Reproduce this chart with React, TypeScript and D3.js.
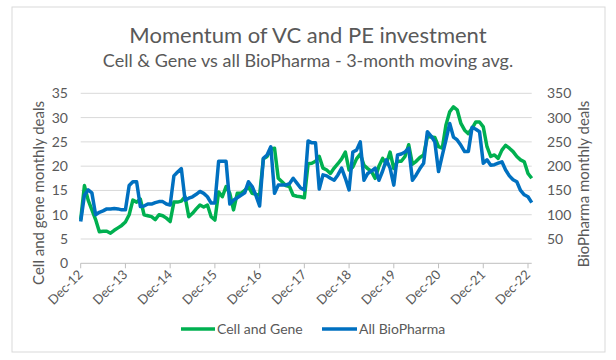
import React from "react";
import * as d3 from "d3";

// 3-month moving averages, monthly from Dec-12 to Jan-23
const cellGene: number[] = [
    9, 16, 13, 11, 9, 6.5, 6.6, 6.6, 6.2, 6.8, 7.3, 7.8,
    8.5, 10, 13, 12.6, 13.2, 10, 9.8, 9.6, 9, 10, 9.8, 9.3,
    8.6, 12.6, 12.6, 12.8, 13.7, 9.6, 10.3, 11.2, 12, 11.6, 12, 9.6,
    8.9, 14.7, 13.7, 15.8, 14.4, 11, 14.4, 14.4, 15, 15.8, 14.4, 14.2,
    14, 21.5, 22, 23.5, 23.7, 17.5, 16.8, 16, 15.8, 14, 13.8, 13.7,
    13.5, 20.5, 20.6, 21, 22, 19.6, 19.2, 18.5, 19.6, 20.5, 21.5, 22.9,
    19.2, 19.8, 21.5, 22.5, 20.2, 19.5, 18.9, 17.5, 20, 21.6, 20.5, 22.9,
    19.5, 21, 21, 22, 24.4, 20.4, 21, 21.8, 22.3, 26.1, 26, 25.9,
    24, 23.7, 28.5, 31.2, 32.2, 31.6, 28.8, 27.4, 26.7, 27.8, 29.1, 29.1,
    28.1, 24, 22, 22.3, 21.6, 23.3, 24.3, 23.7, 23, 22, 21.3, 20.9,
    18.5, 17.5
];

const allBioPharma: number[] = [
    86, 140, 151, 145, 100, 105, 108, 112, 112, 113, 112, 110,
    110, 160, 168, 168, 117, 118, 122, 122, 125, 127, 127, 122,
    120, 180, 188, 195, 130, 134, 137, 142, 148, 144, 137, 124,
    124, 210, 210, 210, 122, 130, 135, 140, 145, 168, 158, 140,
    118, 216, 223, 240, 144, 161, 161, 161, 164, 175, 165, 155,
    151, 252, 248, 248, 153, 182, 180, 175, 171, 182, 196, 175,
    151, 229, 233, 250, 171, 185, 190, 196, 171, 190, 213, 196,
    161, 223, 225, 229, 237, 171, 182, 195, 206, 271, 262, 250,
    189, 222, 254, 288, 260, 254, 243, 230, 230, 280, 276, 271,
    206, 213, 202, 203, 206, 209, 192, 180, 172, 168, 150, 141,
    137, 125
];

const yearTicks = ["Dec-12", "Dec-13", "Dec-14", "Dec-15", "Dec-16", "Dec-17",
    "Dec-18", "Dec-19", "Dec-20", "Dec-21", "Dec-22"];
const leftTicks = [0, 5, 10, 15, 20, 25, 30, 35];
const rightTicks = [50, 100, 150, 200, 250, 300, 350];

const GREEN = "#00b050";
const BLUE = "#0070c0";
const TEXT = "#595959";
const FONT = "Lato, 'Open Sans', sans-serif";

const App = () => {
    const left = 80.7;
    const top = 93.3;
    const bottom = 263.3;

    // one month per step, Dec-12 on the left edge, Dec-22 at month 120
    const x = d3.scaleLinear().domain([0, 120]).range([left, 528]);
    const right = x(cellGene.length - 1);
    const yL = d3.scaleLinear().domain([0, 35]).range([bottom, top]);
    const yR = d3.scaleLinear().domain([0, 350]).range([bottom, top]);

    const greenLine = d3.line<number>()
        .x((_, i) => x(i))
        .y(d => yL(d));
    const blueLine = d3.line<number>()
        .x((_, i) => x(i))
        .y(d => yR(d));

    return (
        <svg width={616} height={360}
            style={{ position: "absolute", left: 0, top: 0, background: "#fff" }}
            fontFamily={FONT}>
            <rect x={12} y={7} width={593} height={345} fill="#fff" stroke="#d9d9d9" />

            <text x={308} y={43} textAnchor="middle" fontSize={22} fill={TEXT}>
                Momentum of VC and PE investment
            </text>
            <text x={308} y={67} textAnchor="middle" fontSize={18} fill={TEXT}>
                Cell &amp; Gene vs all BioPharma - 3-month moving avg.
            </text>

            {leftTicks.slice(1).map(t => (
                <line key={"g" + t} x1={left} x2={right} y1={yL(t)} y2={yL(t)}
                    stroke="#d9d9d9" strokeWidth={1} />
            ))}
            <line x1={left} x2={right} y1={bottom} y2={bottom} stroke="#bfbfbf" />
            {yearTicks.map((lbl, i) => {
                const xt = x(i * 12);
                return (
                    <g key={lbl}>
                        <line x1={xt} x2={xt} y1={bottom} y2={bottom + 5} stroke="#bfbfbf" />
                        <text transform={`translate(${xt + 3},${bottom + 12}) rotate(-45)`}
                            textAnchor="end" fontSize={13} fill={TEXT}>{lbl}</text>
                    </g>
                );
            })}

            {leftTicks.map(t => (
                <text key={"l" + t} x={68} y={yL(t) + 5} textAnchor="end"
                    fontSize={14} fill={TEXT}>{t}</text>
            ))}
            {rightTicks.map(t => (
                <text key={"r" + t} x={547} y={yR(t) + 5} textAnchor="start"
                    fontSize={14} fill={TEXT}>{t}</text>
            ))}

            <text transform={`translate(44,193) rotate(-90)`} textAnchor="middle"
                fontSize={15} fill={TEXT}>Cell and gene monthly deals</text>
            <text transform={`translate(589,184) rotate(-90)`} textAnchor="middle"
                fontSize={15} fill={TEXT}>BioPharma monthly deals</text>

            <path d={greenLine(cellGene) || ""} fill="none" stroke={GREEN}
                strokeWidth={3.5} strokeLinejoin="round" />
            <path d={blueLine(allBioPharma) || ""} fill="none" stroke={BLUE}
                strokeWidth={3.5} strokeLinejoin="round" />

            <g fontSize={14} fill={TEXT}>
                <line x1={181} x2={215} y1={329} y2={329} stroke={GREEN} strokeWidth={3.5} />
                <text x={217} y={334}>Cell and Gene</text>
                <line x1={322} x2={357} y1={329} y2={329} stroke={BLUE} strokeWidth={3.5} />
                <text x={359} y={334}>All BioPharma</text>
            </g>
        </svg>
    );
};

export default App;
